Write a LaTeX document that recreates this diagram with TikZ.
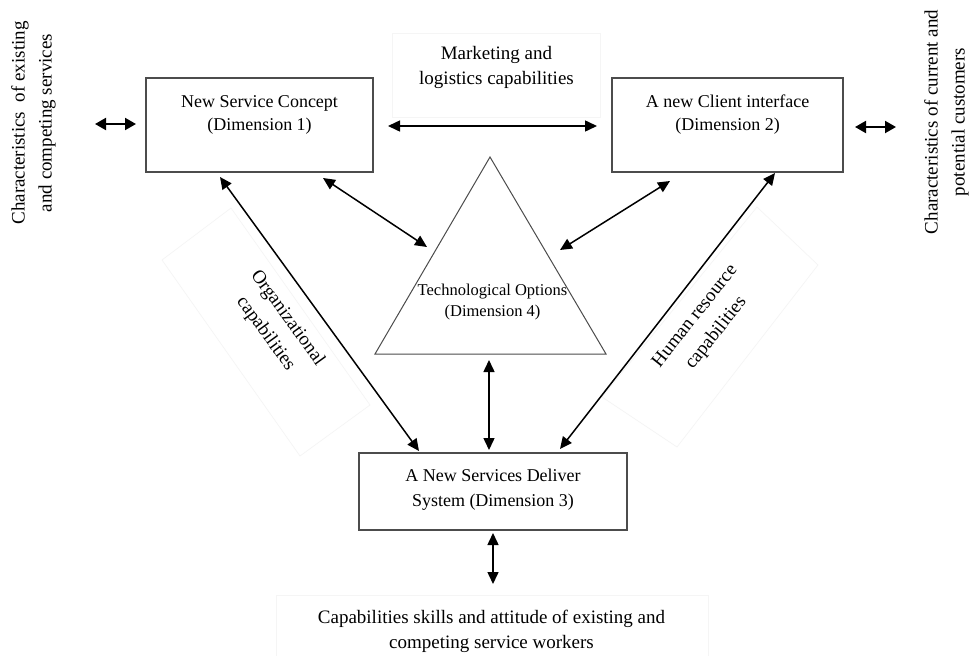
\documentclass[tikz,border=0pt]{standalone}
\usepackage{fontspec}
\setmainfont{Liberation Serif}
\usetikzlibrary{arrows.meta}
\begin{document}
\begin{tikzpicture}[x=1pt,y=-1pt,
  box/.style={draw=black!70, line width=1.3pt, fill=white, inner sep=0pt},
  txt/.style={font=\fontsize{19}{25}\selectfont, align=center, inner sep=0pt},
  rtxt/.style={font=\fontsize{19}{27}\selectfont, align=center, inner sep=0pt},
  boxtxt/.style={font=\fontsize{18}{23}\selectfont, align=center, inner sep=0pt},
  tritxt/.style={font=\fontsize{16.5}{21}\selectfont, align=center, inner sep=0pt},
  conn/.style={line width=1.5pt, {Triangle[length=12pt,width=11pt]}-{Triangle[length=12pt,width=11pt]}},
  sconn/.style={line width=2pt, {Triangle[length=11pt,width=12pt]}-{Triangle[length=11pt,width=12pt]}},
  faint/.style={draw=black!4, line width=0.7pt}]
\useasboundingbox[fill=white] (0,0) rectangle (974,656);

% faint text frames
\draw[faint] (231,208) -- (370,405) -- (300,456) -- (162,260) -- cycle;
\draw[faint] (757,207) -- (818,265) -- (677,447) -- (602,397) -- cycle;
\draw[faint] (392,33) rectangle (600,117);
\draw[faint] (276,595) -- (708,595) -- (708,656);
\draw[faint] (276,595) -- (276,656);

% boxes
\node[box, minimum width=227pt, minimum height=94pt] (b1) at (259.5,125) {};
\node[boxtxt] (b1t) at (259.5,115) {New Service Concept\\(Dimension 1)};
\node[box, minimum width=231pt, minimum height=94pt] (b2) at (727.5,125) {};
\node[boxtxt] (b2t) at (727.5,115) {A new Client interface\\(Dimension 2)};
\node[box, minimum width=268pt, minimum height=77pt] (b3) at (493,491.5) {};
\node[txt, font=\fontsize{18}{25}\selectfont] (b3t) at (493,490) {A New Services Deliver\\System (Dimension 3)};

% triangle
\coordinate (tA) at (490,157);
\coordinate (tL) at (375,354);
\coordinate (tR) at (606,354);
\draw[draw=black!70, line width=1pt] (tA) -- (tR) -- (tL) -- cycle;
\node[tritxt] (tt) at (492.5,302) {Technological Options\\(Dimension 4)};

% outside labels
\node[txt] (mk) at (496.5,67) {Marketing and\\logistics capabilities};
\node[rtxt, rotate=90] (lt) at (33.5,123) {Characteristics\ \ of existing\\and competing services};
\node[rtxt, rotate=90] (rt) at (946.5,122) {Characteristics of current and\\potential customers};
\node[rtxt, rotate=-54] (org) at (276.5,326) {Organizational\\capabilities};
\node[rtxt, rotate=51.5] (hr) at (706,325) {Human resource\\capabilities};
\node[txt] (bt) at (491.5,631) {Capabilities skills and attitude of existing and\\competing service workers};

% connector end points
\coordinate (l1) at (95,124);   \coordinate (l2) at (136,124);
\coordinate (r1) at (855,127);  \coordinate (r2) at (896,127);
\coordinate (m1) at (388,126);  \coordinate (m2) at (597,126);
\coordinate (p1) at (323,178);  \coordinate (p2) at (427,247);
\coordinate (q1) at (220,177);  \coordinate (q2) at (419,451);
\coordinate (s1) at (560,250);  \coordinate (s2) at (670,181);
\coordinate (u1) at (560,449);  \coordinate (u2) at (775,173);
\coordinate (v1) at (489,360);  \coordinate (v2) at (489,450);
\coordinate (w1) at (493,533);  \coordinate (w2) at (493,584);

\draw[sconn] (l1) -- (l2);
\draw[sconn] (r1) -- (r2);
\draw[conn] (m1) -- (m2);
\draw[conn] (p1) -- (p2);
\draw[conn] (q1) -- (q2);
\draw[conn] (s1) -- (s2);
\draw[conn] (u1) -- (u2);
\draw[conn] (v1) -- (v2);
\draw[conn] (w1) -- (w2);
\end{tikzpicture}
\end{document}
